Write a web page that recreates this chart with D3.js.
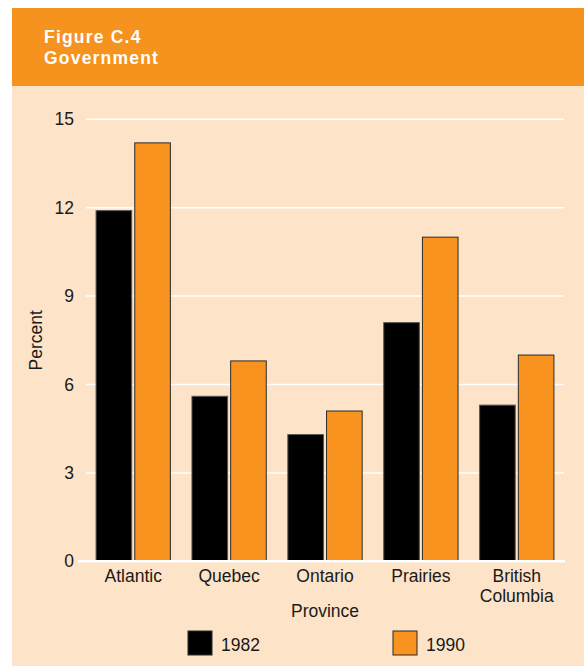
<!DOCTYPE html>
<html lang="en">
<head>
  <meta charset="UTF-8">
  <title>Figure C.4 Government</title>
  <script src="https://d3js.org/d3.v7.min.js"></script>
  <style>
    body { margin: 0; background: #fff; }
    svg text { font-family: "Liberation Sans", Arial, sans-serif; fill: #1a1a1a; }
    .title { font-weight: bold; font-size: 17.5px; letter-spacing: 1.2px; fill: #fff !important; }
    .grid line { stroke: #fff; stroke-width: 1.5px; }
    .bar { stroke-width: 1px; }
  </style>
</head>
<body>
<script>
  // data
  const provinces = ["Atlantic", "Quebec", "Ontario", "Prairies", "British Columbia"];
  const years = ["1982", "1990"];
  const values1982 = [11.9, 5.6, 4.3, 8.1, 5.3];
  const values1990 = [14.2, 6.8, 5.1, 11.0, 7.0];
  const yTicks = [0, 3, 6, 9, 12, 15];
  const colors = ["#000000", "#f7931e"];

  const W = 584, H = 666;
  const svg = d3.select("body").append("svg")
    .attr("width", W)
    .attr("height", H);

  // background panels
  svg.append("rect").attr("x", 12).attr("y", 86).attr("width", W - 12).attr("height", H - 86)
    .attr("fill", "#fde3c8");
  svg.append("rect").attr("x", 12).attr("y", 8).attr("width", W - 12).attr("height", 78)
    .attr("fill", "#f6921e");

  svg.append("text").attr("class", "title").attr("x", 44).attr("y", 43).text("Figure C.4");
  svg.append("text").attr("class", "title").attr("x", 44).attr("y", 63.5).text("Government");

  const x0 = d3.scaleBand()
    .domain(provinces)
    .range([86, 564])
    .paddingInner(0.225)
    .paddingOuter(0.105);

  const x1 = d3.scaleBand()
    .domain(years)
    .range([0, x0.bandwidth()])
    .paddingInner(0.08);

  const y = d3.scaleLinear().domain([0, 15]).range([561.3, 119.3]);

  // gridlines
  svg.append("g").attr("class", "grid")
    .selectAll("line")
    .data(yTicks.filter(d => d > 0))
    .enter().append("line")
    .attr("x1", 86).attr("x2", 564)
    .attr("y1", d => y(d)).attr("y2", d => y(d));

  // y tick labels
  svg.append("g")
    .selectAll("text")
    .data(yTicks)
    .enter().append("text")
    .attr("x", 74)
    .attr("y", d => y(d))
    .attr("dy", "0.35em")
    .attr("text-anchor", "end")
    .style("font-size", "17.5px")
    .text(d => d);

  svg.append("text")
    .attr("transform", `translate(42,${y(7.5)}) rotate(-90)`)
    .attr("text-anchor", "middle")
    .style("font-size", "17.5px")
    .text("Percent");

  // bars
  const series = [values1982, values1990];
  const groups = svg.append("g")
    .selectAll("g")
    .data(provinces)
    .enter().append("g")
    .attr("transform", d => `translate(${x0(d)},0)`);

  groups.selectAll("rect")
    .data((d, i) => years.map((yr, j) => ({ yr: yr, v: series[j][i], j: j })))
    .enter().append("rect")
    .attr("class", "bar")
    .attr("x", d => x1(d.yr))
    .attr("width", x1.bandwidth())
    .attr("y", d => y(d.v))
    .attr("height", d => y(0) - y(d.v))
    .attr("fill", d => colors[d.j])
    .attr("stroke", d => d.j === 0 ? "#555" : "#2b2b2b");

  // zero line
  svg.append("line")
    .attr("x1", 78).attr("x2", 565)
    .attr("y1", y(0)).attr("y2", y(0))
    .attr("stroke", "#fff").attr("stroke-width", 2.5);

  // x labels
  const xl = svg.append("g")
    .selectAll("text")
    .data(provinces)
    .enter().append("text")
    .attr("x", d => x0(d) + x0.bandwidth() / 2)
    .attr("y", 582)
    .attr("text-anchor", "middle")
    .style("font-size", "17.5px");
  xl.each(function(d) {
    const words = d.split(" ");
    const t = d3.select(this);
    words.forEach((w, k) => {
      t.append("tspan")
        .attr("x", x0(d) + x0.bandwidth() / 2)
        .attr("dy", k === 0 ? 0 : 20)
        .text(w);
    });
  });

  svg.append("text")
    .attr("x", 325).attr("y", 617)
    .attr("text-anchor", "middle")
    .style("font-size", "17.5px")
    .text("Province");

  // legend
  const legX = [188, 393];
  const leg = svg.append("g")
    .selectAll("g")
    .data(years)
    .enter().append("g")
    .attr("transform", (d, i) => `translate(${legX[i]},631)`);
  leg.append("rect")
    .attr("width", 24).attr("height", 24)
    .attr("fill", (d, i) => colors[i])
    .attr("stroke", "#2b2b2b");
  leg.append("text")
    .attr("x", 33).attr("y", 20)
    .style("font-size", "17.5px")
    .text(d => d);
</script>
</body>
</html>
